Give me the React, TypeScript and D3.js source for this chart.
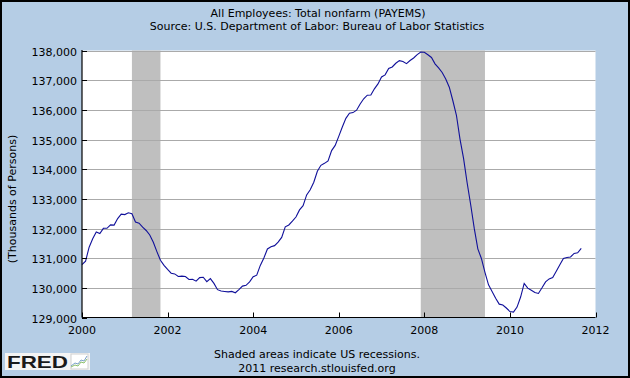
import React from "react";
import * as d3 from "d3";

const startYear = 2000;
const values: number[] = [
  // 2000
  130781, 130898, 131370, 131656, 131880, 131828, 132006, 132006, 132123, 132116, 132336, 132484,
  // 2001
  132469, 132530, 132500, 132219, 132177, 132046, 131933, 131782, 131538, 131221, 130928, 130757,
  // 2002
  130621, 130493, 130469, 130383, 130394, 130383, 130282, 130289, 130225, 130345, 130357, 130207,
  // 2003
  130311, 130150, 129938, 129891, 129879, 129863, 129880, 129834, 129942, 130058, 130086, 130199,
  // 2004
  130372, 130426, 130755, 131004, 131311, 131386, 131422, 131540, 131701, 132058, 132119, 132249,
  // 2005
  132388, 132627, 132770, 133131, 133304, 133558, 133929, 134129, 134196, 134280, 134627, 134801,
  // 2006
  135106, 135420, 135714, 135886, 135907, 135989, 136198, 136374, 136493, 136498, 136708, 136874,
  // 2007
  137109, 137179, 137393, 137444, 137570, 137659, 137628, 137557, 137663, 137747, 137862, 137951,
  // 2008
  137941, 137858, 137766, 137550, 137411, 137258, 137038, 136764, 136306, 135817, 135014, 134362,
  // 2009
  133543, 132801, 132003, 131315, 130990, 130524, 130100, 129880, 129650, 129450, 129420, 129320,
  // 2010
  129200, 129180, 129350, 129690, 130150, 129990, 129920, 129840, 129810, 130000, 130200, 130300,
  // 2011
  130350, 130560, 130780, 130990, 131020, 131040, 131160, 131180, 131330,
];

const recessions: [number, number][] = [
  [2001 + 2 / 12, 2001 + 10 / 12],
  [2007 + 11 / 12, 2009 + 5 / 12],
];

const yTicks = [129000, 130000, 131000, 132000, 133000, 134000, 135000, 136000, 137000, 138000];
const xTicks = [2000, 2002, 2004, 2006, 2008, 2010, 2012];

const titleText = "All Employees: Total nonfarm (PAYEMS)";
const subtitleText = "Source: U.S. Department of Labor: Bureau of Labor Statistics";
const yLabel = "(Thousands of Persons)";
const footer1 = "Shaded areas indicate US recessions.";
const footer2 = "2011 research.stlouisfed.org";

export default function App() {
  const W = 630, H = 378;
  const left = 82, right = 595.5, top = 50.5, bottom = 317.5;
  const x = d3.scaleLinear().domain([2000, 2012]).range([left, right]);
  const y = d3.scaleLinear().domain([129000, 138000]).range([bottom, top]);
  const pts = values.map((v, i) => ({ t: startYear + i / 12, v }));
  const line = d3
    .line<{ t: number; v: number }>()
    .x((d) => x(d.t))
    .y((d) => y(d.v));
  const font = "'DejaVu Sans', Verdana, sans-serif";
  const fmt = d3.format(",");

  const iconLine1 = [ [0, 12], [4, 9], [7, 10], [10, 6], [13, 7], [16, 2] ];
  const iconLine2 = [ [0, 14], [4, 12], [7, 13], [10, 9], [13, 10], [16, 6] ];

  return (
    <svg
      width={W}
      height={H}
      style={{ position: "fixed", left: 0, top: 0 }}
      fontFamily={font}
    >
      <rect x={0} y={0} width={W} height={H} fill="#b5cde5" />
      <rect x={1} y={1} width={W - 2} height={H - 2} fill="none" stroke="#000" strokeWidth={2} />
      <rect x={left} y={top} width={right - left} height={bottom - top} fill="#fff" />
      {recessions.map(([a, b], i) => (
        <rect key={i} x={x(a)} y={top} width={x(b) - x(a)} height={bottom - top} fill="#bfbfbf" />
      ))}
      {yTicks.filter((t) => t !== 129000).map((t) => (
        <line key={t} x1={left} x2={right} y1={Math.round(y(t)) + 0.5} y2={Math.round(y(t)) + 0.5} stroke="#aaaaaa" strokeWidth={1} />
      ))}
      <path d={line(pts) || ""} fill="none" stroke="#10109a" strokeWidth={1.1} />
      <line x1={left} x2={left} y1={top - 0.5} y2={bottom} stroke="#000" strokeWidth={1.2} />
      <line x1={left} x2={right} y1={bottom} y2={bottom} stroke="#000" strokeWidth={1.2} />
      {yTicks.map((t) => (
        <g key={t}>
          <line x1={left} x2={left + 5} y1={Math.round(y(t)) + 0.5} y2={Math.round(y(t)) + 0.5} stroke="#000" strokeWidth={1} />
          <text x={left - 5} y={y(t) + 2} fontSize={11} textAnchor="end" dominantBaseline="middle" fill="#000">
            {fmt(t)}
          </text>
        </g>
      ))}
      {xTicks.map((t) => (
        <g key={t}>
          <line x1={Math.round(x(t)) + 0.5} x2={Math.round(x(t)) + 0.5} y1={bottom} y2={bottom - 5} stroke="#000" strokeWidth={1} />
          <text x={x(t)} y={331} fontSize={11} textAnchor="middle" dominantBaseline="middle" fill="#000">
            {t}
          </text>
        </g>
      ))}
      <text x={318} y={14} fontSize={11} textAnchor="middle" dominantBaseline="middle" fill="#000">
        {titleText}
      </text>
      <text x={317} y={26.5} fontSize={11} textAnchor="middle" dominantBaseline="middle" fill="#000">
        {subtitleText}
      </text>
      <text
        transform={`translate(13,199) rotate(-90)`}
        fontSize={11}
        textAnchor="middle"
        dominantBaseline="middle"
        fill="#000"
      >
        {yLabel}
      </text>
      <text x={317} y={355} fontSize={11} textAnchor="middle" dominantBaseline="middle" fill="#000">
        {footer1}
      </text>
      <text x={317} y={369} fontSize={11} textAnchor="middle" dominantBaseline="middle" fill="#000">
        {footer2}
      </text>
      <rect x={5} y={353} width={85} height={17} fill="#f4f4f4" />
      <text x={7} y={368} fontSize={16.5} fontWeight="bold" fontFamily="'Liberation Sans', Arial, sans-serif" fill="#1a1a1a" textLength={61} lengthAdjust="spacingAndGlyphs">
        FRED
      </text>
      <g transform="translate(71,354)">
        <rect x={0} y={0} width={17} height={15} fill="#ffffff" stroke="#d0d0d0" />
        <polyline points={iconLine1.map((p) => p.join(",")).join(" ")} fill="none" stroke="#7aa0c8" strokeWidth={1} />
        <polyline points={iconLine2.map((p) => p.join(",")).join(" ")} fill="none" stroke="#8cbf6a" strokeWidth={1} transform="translate(0,-1)" />
      </g>
    </svg>
  );
}
